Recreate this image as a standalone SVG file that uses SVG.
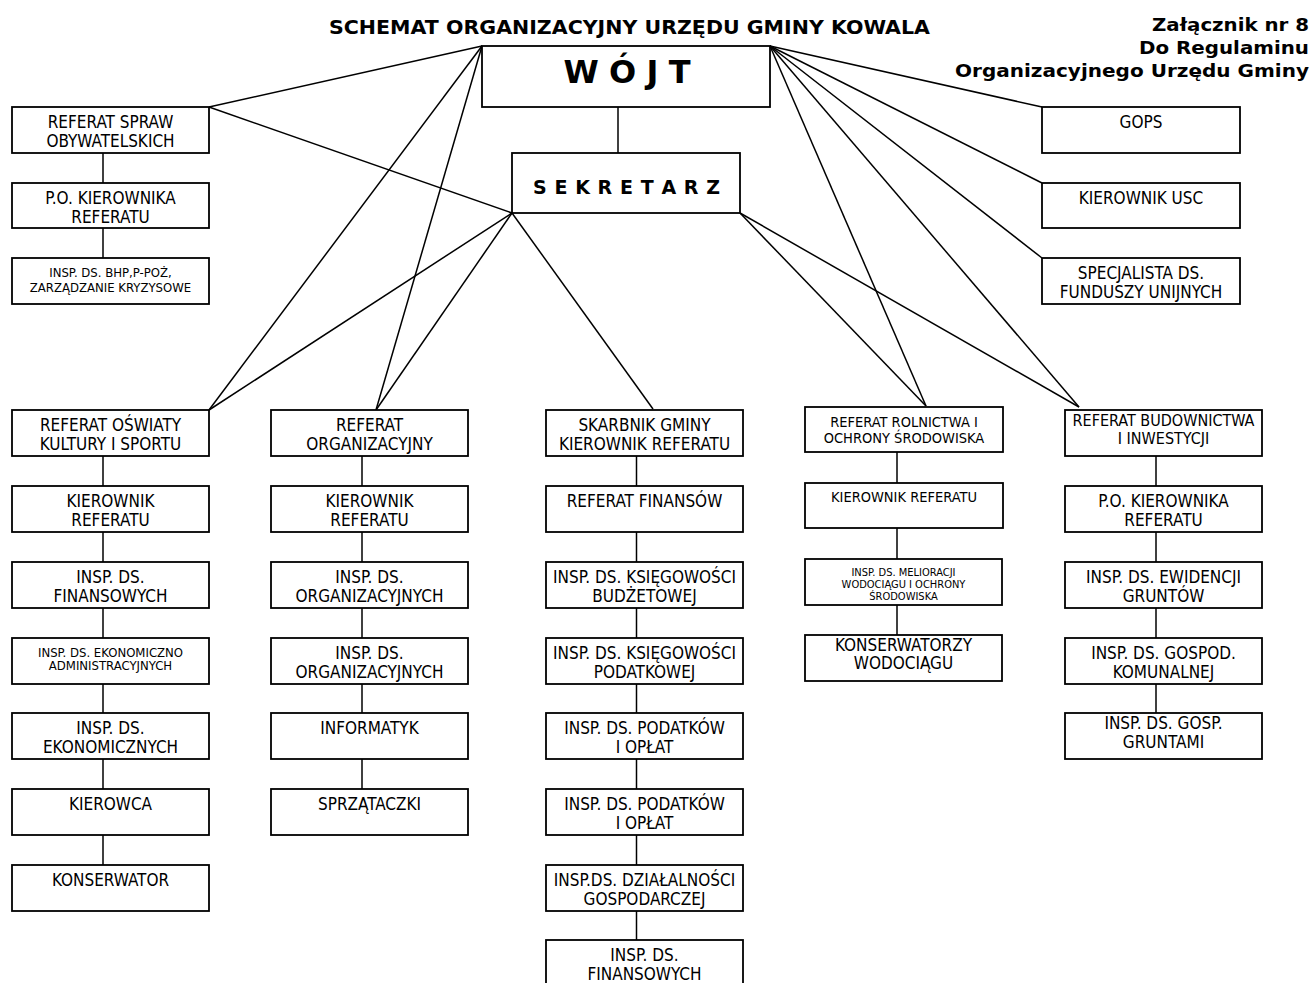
<svg xmlns="http://www.w3.org/2000/svg" width="1315" height="983" viewBox="0 0 1315 983">
<style>
rect{fill:#fff;stroke:#000;stroke-width:1.8}
#connectors line{stroke:#000;stroke-width:1.5}
text{font-family:"DejaVu Sans Condensed","DejaVu Sans",sans-serif;fill:#000;text-anchor:middle}
.t{font-size:17px}
.t16{font-size:16px}
.m{font-size:14.5px}
.s{font-size:13px}
.xs{font-size:11px}
.b{font-family:"DejaVu Sans",sans-serif;font-weight:bold}
.hd{font-size:19px}
.hr{font-size:18.5px;text-anchor:end}
</style>
<rect width="1315" height="983" style="fill:#fff;stroke:none"/>
<text class="b hd" x="629.5" y="34" textLength="601" lengthAdjust="spacingAndGlyphs">SCHEMAT ORGANIZACYJNY URZĘDU GMINY KOWALA</text>
<g id="header">
<text class="b hr" x="1309" y="31" textLength="157" lengthAdjust="spacingAndGlyphs">Załącznik nr 8</text>
<text class="b hr" x="1309" y="54" textLength="170" lengthAdjust="spacingAndGlyphs">Do Regulaminu</text>
<text class="b hr" x="1309" y="77" textLength="354" lengthAdjust="spacingAndGlyphs">Organizacyjnego Urzędu Gminy</text>
</g>
<g id="connectors">
<line x1="618" y1="107" x2="618" y2="153"/>
<line x1="482" y1="46" x2="209" y2="107"/>
<line x1="209" y1="107" x2="512" y2="213"/>
<line x1="482" y1="46" x2="209" y2="410"/>
<line x1="482" y1="46" x2="376" y2="410"/>
<line x1="512" y1="213" x2="209" y2="410"/>
<line x1="512" y1="213" x2="376" y2="410"/>
<line x1="512" y1="213" x2="653" y2="409"/>
<line x1="770" y1="46" x2="1042" y2="107"/>
<line x1="770" y1="46" x2="1042" y2="183"/>
<line x1="770" y1="46" x2="1042" y2="258"/>
<line x1="770" y1="46" x2="926" y2="406"/>
<line x1="740" y1="213" x2="926" y2="406"/>
<line x1="770" y1="46" x2="1079" y2="407"/>
<line x1="740" y1="213" x2="1079" y2="407"/>
<line x1="103" y1="153" x2="103" y2="183"/>
<line x1="103" y1="228" x2="103" y2="258"/>
<line x1="103" y1="456" x2="103" y2="486"/>
<line x1="103" y1="532" x2="103" y2="562"/>
<line x1="103" y1="608" x2="103" y2="638"/>
<line x1="103" y1="684" x2="103" y2="713"/>
<line x1="103" y1="759" x2="103" y2="789"/>
<line x1="103" y1="835" x2="103" y2="865"/>
<line x1="362" y1="456" x2="362" y2="486"/>
<line x1="362" y1="532" x2="362" y2="562"/>
<line x1="362" y1="608" x2="362" y2="638"/>
<line x1="362" y1="684" x2="362" y2="713"/>
<line x1="362" y1="759" x2="362" y2="789"/>
<line x1="636.5" y1="456" x2="636.5" y2="486"/>
<line x1="636.5" y1="532" x2="636.5" y2="562"/>
<line x1="636.5" y1="608" x2="636.5" y2="638"/>
<line x1="636.5" y1="684" x2="636.5" y2="713"/>
<line x1="636.5" y1="759" x2="636.5" y2="789"/>
<line x1="636.5" y1="835" x2="636.5" y2="865"/>
<line x1="636.5" y1="911" x2="636.5" y2="940"/>
<line x1="897" y1="452" x2="897" y2="483"/>
<line x1="897" y1="528" x2="897" y2="559"/>
<line x1="897" y1="605" x2="897" y2="635"/>
<line x1="1156" y1="456" x2="1156" y2="486"/>
<line x1="1156" y1="532" x2="1156" y2="562"/>
<line x1="1156" y1="608" x2="1156" y2="638"/>
<line x1="1156" y1="684" x2="1156" y2="713"/>
</g>
<g id="wojt"><rect x="482" y="46" width="288" height="61"/><text class="b" style="font-size:32px" x="627" y="83" textLength="127" lengthAdjust="spacing">W Ó J T</text></g>
<g id="sekretarz"><rect x="512" y="153" width="228" height="60"/><text class="b" style="font-size:19px" x="626.5" y="194" textLength="187" lengthAdjust="spacing">S E K R E T A R Z</text></g>

<g id="ref-spraw-obyw"><rect x="12" y="107" width="197" height="46"/><text class="t" x="110.5" y="128">REFERAT SPRAW</text><text class="t" x="110.5" y="147">OBYWATELSKICH</text></g>
<g id="po-kier-1"><rect x="12" y="183" width="197" height="45"/><text class="t" x="110.5" y="204">P.O. KIEROWNIKA</text><text class="t" x="110.5" y="223">REFERATU</text></g>
<g id="insp-bhp"><rect x="12" y="258" width="197" height="46"/><text class="s" x="110.5" y="276.5">INSP. DS. BHP,P-POŻ,</text><text class="s" x="110.5" y="291.5">ZARZĄDZANIE KRYZYSOWE</text></g>

<g id="gops"><rect x="1042" y="107" width="198" height="46"/><text class="t" x="1141" y="128">GOPS</text></g>
<g id="kier-usc"><rect x="1042" y="183" width="198" height="45"/><text class="t" x="1141" y="204">KIEROWNIK USC</text></g>
<g id="specjalista"><rect x="1042" y="258" width="198" height="46"/><text class="t" x="1141" y="279">SPECJALISTA DS.</text><text class="t" x="1141" y="298">FUNDUSZY UNIJNYCH</text></g>

<g id="c1-1"><rect x="12" y="410" width="197" height="46"/><text class="t" x="110.5" y="431">REFERAT OŚWIATY</text><text class="t" x="110.5" y="450">KULTURY I SPORTU</text></g>
<g id="c1-2"><rect x="12" y="486" width="197" height="46"/><text class="t" x="110.5" y="507">KIEROWNIK</text><text class="t" x="110.5" y="526">REFERATU</text></g>
<g id="c1-3"><rect x="12" y="562" width="197" height="46"/><text class="t" x="110.5" y="583">INSP. DS.</text><text class="t" x="110.5" y="602">FINANSOWYCH</text></g>
<g id="c1-4"><rect x="12" y="638" width="197" height="46"/><text class="s" x="110.5" y="656.5">INSP. DS. EKONOMICZNO</text><text class="s" x="110.5" y="670">ADMINISTRACYJNYCH</text></g>
<g id="c1-5"><rect x="12" y="713" width="197" height="46"/><text class="t" x="110.5" y="734">INSP. DS.</text><text class="t" x="110.5" y="753">EKONOMICZNYCH</text></g>
<g id="c1-6"><rect x="12" y="789" width="197" height="46"/><text class="t" x="110.5" y="810">KIEROWCA</text></g>
<g id="c1-7"><rect x="12" y="865" width="197" height="46"/><text class="t" x="110.5" y="886">KONSERWATOR</text></g>

<g id="c2-1"><rect x="271" y="410" width="197" height="46"/><text class="t" x="369.5" y="431">REFERAT</text><text class="t" x="369.5" y="450">ORGANIZACYJNY</text></g>
<g id="c2-2"><rect x="271" y="486" width="197" height="46"/><text class="t" x="369.5" y="507">KIEROWNIK</text><text class="t" x="369.5" y="526">REFERATU</text></g>
<g id="c2-3"><rect x="271" y="562" width="197" height="46"/><text class="t" x="369.5" y="583">INSP. DS.</text><text class="t" x="369.5" y="602">ORGANIZACYJNYCH</text></g>
<g id="c2-4"><rect x="271" y="638" width="197" height="46"/><text class="t" x="369.5" y="659">INSP. DS.</text><text class="t" x="369.5" y="678">ORGANIZACYJNYCH</text></g>
<g id="c2-5"><rect x="271" y="713" width="197" height="46"/><text class="t" x="369.5" y="734">INFORMATYK</text></g>
<g id="c2-6"><rect x="271" y="789" width="197" height="46"/><text class="t" x="369.5" y="810">SPRZĄTACZKI</text></g>

<g id="c3-1"><rect x="546" y="410" width="197" height="46"/><text class="t" x="644.5" y="431">SKARBNIK GMINY</text><text class="t" x="644.5" y="450">KIEROWNIK REFERATU</text></g>
<g id="c3-2"><rect x="546" y="486" width="197" height="46"/><text class="t" x="644.5" y="507">REFERAT FINANSÓW</text></g>
<g id="c3-3"><rect x="546" y="562" width="197" height="46"/><text class="t" x="644.5" y="583">INSP. DS. KSIĘGOWOŚCI</text><text class="t" x="644.5" y="602">BUDŻETOWEJ</text></g>
<g id="c3-4"><rect x="546" y="638" width="197" height="46"/><text class="t" x="644.5" y="659">INSP. DS. KSIĘGOWOŚCI</text><text class="t" x="644.5" y="678">PODATKOWEJ</text></g>
<g id="c3-5"><rect x="546" y="713" width="197" height="46"/><text class="t" x="644.5" y="734">INSP. DS. PODATKÓW</text><text class="t" x="644.5" y="753">I OPŁAT</text></g>
<g id="c3-6"><rect x="546" y="789" width="197" height="46"/><text class="t" x="644.5" y="810">INSP. DS. PODATKÓW</text><text class="t" x="644.5" y="829">I OPŁAT</text></g>
<g id="c3-7"><rect x="546" y="865" width="197" height="46"/><text class="t" x="644.5" y="886">INSP.DS. DZIAŁALNOŚCI</text><text class="t" x="644.5" y="905">GOSPODARCZEJ</text></g>
<g id="c3-8"><rect x="546" y="940" width="197" height="46"/><text class="t" x="644.5" y="961">INSP. DS.</text><text class="t" x="644.5" y="980">FINANSOWYCH</text></g>

<g id="c4-1"><rect x="805" y="407" width="198" height="45"/><text class="m" x="904" y="427">REFERAT ROLNICTWA I</text><text class="m" x="904" y="443">OCHRONY ŚRODOWISKA</text></g>
<g id="c4-2"><rect x="805" y="483" width="198" height="45"/><text class="m" x="904" y="502">KIEROWNIK REFERATU</text></g>
<g id="c4-3"><rect x="805" y="559" width="197" height="46"/><text class="xs" x="903.5" y="576">INSP. DS. MELIORACJI</text><text class="xs" x="903.5" y="588">WODOCIĄGU I OCHRONY</text><text class="xs" x="903.5" y="600">ŚRODOWISKA</text></g>
<g id="c4-4"><rect x="805" y="635" width="197" height="46"/><text class="t" x="903.5" y="651">KONSERWATORZY</text><text class="t" x="903.5" y="669">WODOCIĄGU</text></g>

<g id="c5-1"><rect x="1065" y="410" width="197" height="46"/><text class="t16" x="1163.5" y="426">REFERAT BUDOWNICTWA</text><text class="t16" x="1163.5" y="444">I INWESTYCJI</text></g>
<g id="c5-2"><rect x="1065" y="486" width="197" height="46"/><text class="t" x="1163.5" y="507">P.O. KIEROWNIKA</text><text class="t" x="1163.5" y="526">REFERATU</text></g>
<g id="c5-3"><rect x="1065" y="562" width="197" height="46"/><text class="t" x="1163.5" y="583">INSP. DS. EWIDENCJI</text><text class="t" x="1163.5" y="602">GRUNTÓW</text></g>
<g id="c5-4"><rect x="1065" y="638" width="197" height="46"/><text class="t" x="1163.5" y="659">INSP. DS. GOSPOD.</text><text class="t" x="1163.5" y="678">KOMUNALNEJ</text></g>
<g id="c5-5"><rect x="1065" y="713" width="197" height="46"/><text class="t" x="1163.5" y="729">INSP. DS. GOSP.</text><text class="t" x="1163.5" y="748">GRUNTAMI</text></g>
</svg>
